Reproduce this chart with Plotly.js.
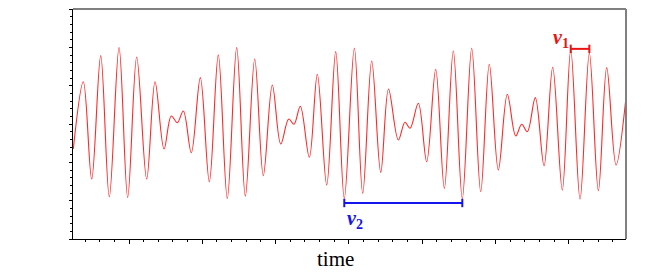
<!DOCTYPE html>
<html>
<head>
<meta charset="utf-8">
<script src="https://cdn.plot.ly/plotly-3.0.1.min.js"></script>
<style>html,body{margin:0;padding:0;background:#fff;}#chart{width:654px;height:273px;}</style>
</head>
<body>
<div id="chart"></div>
<script>
// Extrema of the beating signal (time units arbitrary; major tick = 1)
var time = [0.240,0.377,0.491,0.614,0.731,0.864,0.982,1.105,1.241,1.355,
            1.478,1.577,1.659,1.741,1.850,1.973,2.096,2.218,2.341,2.469,
            2.587,2.715,2.832,2.955,3.070,3.179,3.251,3.337,3.460,3.569,
            3.697,3.820,3.937,4.074,4.188,4.311,4.434,4.540,4.674,4.765,
            4.834,4.947,5.061,5.184,5.302,5.424,5.547,5.675,5.798,5.915,
            6.038,6.161,6.276,6.357,6.434,6.543,6.662,6.780,6.911,7.026,
            7.153,7.280,7.403,7.517,7.644,7.780];
var signal = [-0.653,1.104,-1.436,1.783,-1.898,1.992,-1.914,1.749,-1.436,1.104,
              -0.653,0.209,0.034,0.339,-0.749,1.209,-1.507,1.802,-1.940,1.992,
              -1.880,1.697,-1.350,1.018,-0.522,0.131,-0.008,0.462,-0.869,1.298,
              -1.593,1.888,-1.940,1.977,-1.809,1.645,-1.261,0.914,-0.418,0.044,
              -0.112,0.540,-0.984,1.428,-1.679,1.906,-1.940,1.977,-1.768,1.559,
              -1.201,0.775,-0.313,-0.008,-0.201,0.687,-1.089,1.480,-1.723,1.932,
              -1.958,1.846,-1.742,1.470,-1.070,0.705];
var xLabel = "time";
var nu1Label = "<b><i>ν</i><sub>1</sub></b>";
var nu2Label = "<b><i>ν</i><sub>2</sub></b>";

// period markers derived from the data: nu1 = one carrier period, nu2 = one beat period
var nu1a = time[59], nu1b = time[61];
var nu2a = time[32], nu2b = time[46];
var y1 = 1.96, y2 = -2.06, cap = 0.11;

function seg(x0,y0,x1,y1c,color){
  return {type:'line', xref:'x', yref:'y', x0:x0, y0:y0, x1:x1, y1:y1c,
          line:{color:color, width:2}};
}

var trace = {
  x: time, y: signal, type:'scatter', mode:'lines',
  line:{color:'rgb(255,40,40)', width:1.1, shape:'spline', smoothing:1},
  hoverinfo:'skip'
};

var layout = {
  width:654, height:273,
  margin:{l:73, r:28, t:9, b:34},
  paper_bgcolor:'#fff', plot_bgcolor:'#fff',
  showlegend:false,
  xaxis:{range:[0.236,7.78], showgrid:false, zeroline:false, showticklabels:false,
         showline:true, linecolor:'#000', linewidth:1,
         ticks:'outside', tick0:0, dtick:1, ticklen:4, tickcolor:'#000', tickwidth:1,
         minor:{ticks:'outside', dtick:0.2, ticklen:2, tickcolor:'#000', tickwidth:1, showgrid:false}},
  yaxis:{range:[-3,3], showgrid:false, zeroline:false, showticklabels:false,
         showline:true, linecolor:'#000', linewidth:1,
         ticks:'outside', tick0:0, dtick:1, ticklen:3, tickcolor:'#000', tickwidth:1,
         minor:{ticks:'outside', dtick:0.2, ticklen:2, tickcolor:'#000', tickwidth:1, showgrid:false}},
  shapes:[
    {type:'line', xref:'paper', yref:'paper', x0:0, x1:1, y0:1, y1:1, line:{color:'#808080', width:2}},
    {type:'line', xref:'paper', yref:'paper', x0:1, x1:1, y0:0, y1:1, line:{color:'#808080', width:2}},
    seg(nu1a, y1, nu1b, y1, 'rgb(235,20,20)'),
    seg(nu1a, y1-cap, nu1a, y1+cap, 'rgb(235,20,20)'),
    seg(nu1b, y1-cap, nu1b, y1+cap, 'rgb(235,20,20)'),
    seg(nu2a, y2, nu2b, y2, 'rgb(20,20,235)'),
    seg(nu2a, y2-cap, nu2a, y2+cap, 'rgb(20,20,235)'),
    seg(nu2b, y2-cap, nu2b, y2+cap, 'rgb(20,20,235)')
  ],
  annotations:[
    {xref:'x', yref:'y', x:nu1a, y:2.22, xanchor:'right', yanchor:'middle', xshift:0,
     text:nu1Label, showarrow:false, font:{family:'Liberation Serif', size:20, color:'rgb(235,20,20)'}},
    {xref:'x', yref:'y', x:nu2a, y:-2.5, xanchor:'left', yanchor:'middle', xshift:1,
     text:nu2Label, showarrow:false, font:{family:'Liberation Serif', size:20, color:'rgb(20,20,235)'}},
    {xref:'paper', yref:'paper', x:0.474, y:0, yshift:-20, xanchor:'center', yanchor:'middle',
     text:xLabel, showarrow:false, font:{family:'Liberation Serif', size:21, color:'#000'}}
  ]
};

Plotly.newPlot('chart', [trace], layout, {staticPlot:true, displayModeBar:false});
</script>
</body>
</html>
